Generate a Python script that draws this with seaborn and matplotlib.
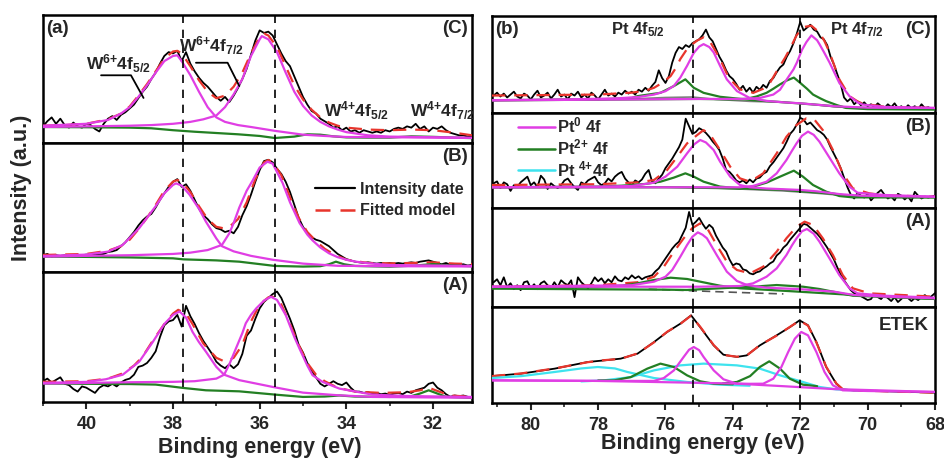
import numpy as np
import matplotlib
matplotlib.use("Agg")
import matplotlib.pyplot as plt
import seaborn as sns
from matplotlib.lines import Line2D
from matplotlib.ticker import MultipleLocator

# ---------------- data (intensity in panel units 0-100) ----------------
# energy grids of the measured spectra (0.1 eV steps)
e_w = np.round(np.arange(41.0, 31.05, -0.1), 1)     # W 4f, 100 points
e_pt = np.round(np.arange(81.1, 67.95, -0.1), 1)    # Pt 4f, 132 points

# ---- (a) W 4f ----
wC_data = [13, 17, 20, 15, 19, 14, 12, 16, 13, 12,
           15, 14, 11, 9, 15, 19, 21, 18, 22, 24,
           27, 30, 35, 40, 44, 50, 55, 62, 68, 71,
           70, 72, 64, 71, 62, 56, 51, 47, 44, 40,
           36, 33, 36, 32, 37, 43, 50, 58, 69, 80,
           88, 86, 87, 84, 77, 70, 64, 60, 52, 44,
           36, 30, 25, 23, 19, 17, 15, 12, 13, 10,
           12, 9, 10, 8, 10, 9, 8, 9, 8, 10,
           9, 11, 12, 11, 13, 12, 15, 11, 13, 9,
           12, 11, 13, 10, 8, 7, 6, 6, 5, 5]
wC_fit_x = [41, 40.5, 40, 39.5, 39.2, 39.0, 38.8, 38.6, 38.4, 38.2, 38.0, 37.9, 37.8, 37.6,
            37.4, 37.2, 37.0, 36.8, 36.6, 36.4, 36.2, 36.0, 35.9, 35.8, 35.6, 35.4, 35.2,
            35.0, 34.8, 34.6, 34.4, 34.2, 34.0, 33.5, 33.0, 32.5, 32.0, 31.5, 31.1]
wC_fit = [13.5, 14, 15, 18.5, 23, 28.5, 37, 46, 56, 66, 71.5, 72, 70, 60,
          49, 40, 35, 37, 44, 55, 70, 83, 85.5, 84, 75, 60, 45,
          34, 26, 20, 16, 13.5, 12, 10.5, 10, 10.5, 10, 8, 6]
wC_p1_x = [41, 40, 39.5, 39.2, 39.0, 38.8, 38.6, 38.4, 38.2, 38.0, 37.9, 37.8, 37.6, 37.4,
           37.2, 37.0, 36.8, 36.5, 36.2, 35.65, 35.0, 34.5, 34.0, 33.0, 32.0, 31.1]
wC_p1 = [13.5, 15, 18, 23, 28, 36, 45, 55, 64, 68, 68.5, 64, 53, 40,
         28, 20, 16.5, 14, 12.5, 9.5, 6.5, 5.5, 4.7, 4.5, 4.2, 4]
wC_p2_x = [41, 40, 39, 38.5, 38, 37.6, 37.3, 37.0, 36.8, 36.6, 36.4, 36.2, 36.0, 35.95,
           35.8, 35.6, 35.4, 35.2, 35.0, 34.8, 34.6, 34.4, 34.2, 34.0, 33.5, 33.0, 32.0, 31.1]
wC_p2 = [12.5, 13, 13.5, 14, 15, 16.5, 18.5, 21.5, 28, 38, 50, 68, 81, 83.5,
         81, 71, 55, 40, 29, 21.5, 16.5, 13, 10.5, 8.5, 6, 5, 4.5, 4]
wC_bg_x = [41, 40, 39, 38.5, 38, 37.5, 37, 36.5, 36, 35.65, 35.2, 34.9, 34.6, 34.3,
           34.0, 33.5, 33.0, 32.5, 32.0, 31.5, 31.1]
wC_bg = [12.5, 12.3, 12, 11.5, 10, 8.8, 7.8, 6.8, 5.5, 3.9, 5.0, 6.8, 6.5, 5.2,
         4.4, 4.2, 4.2, 5.2, 4.8, 4.2, 3.8]

wB_data = [13, 14, 12, 13, 12.5, 13, 12, 13, 12.5, 13,
           13.5, 13, 14, 13.5, 14, 15.5, 16, 17, 20, 23,
           27, 31, 36, 40, 43, 45, 50, 56, 61, 66,
           70, 72, 66, 68, 63, 56, 49, 44, 41, 37,
           34, 33, 31, 32, 30, 35, 44, 51, 60, 70,
           79, 86, 87, 85, 80, 76, 70, 62, 52, 42,
           35, 30, 27, 25, 24, 22, 20, 17, 14, 12,
           10, 9, 8, 7.5, 7, 7.5, 7, 6.5, 7, 6.5,
           7, 6.5, 7, 6.5, 7, 7.5, 7, 8, 8.5, 9,
           8, 7, 6, 7, 5.5, 6, 5.5, 6, 5, 5.5]
wB_fit_x = [41, 40, 39.5, 39.2, 39.0, 38.8, 38.6, 38.4, 38.2, 38.0, 37.9, 37.8, 37.6, 37.4,
            37.2, 37.0, 36.85, 36.7, 36.5, 36.3, 36.1, 35.9, 35.8, 35.7, 35.5, 35.3, 35.1,
            34.9, 34.7, 34.5, 34.3, 34.0, 33.5, 33.0, 32.5, 32.0, 31.5, 31.1]
wB_fit = [13.2, 14, 16.5, 20, 25, 33, 42, 52, 63, 70, 71.3, 70, 62, 51,
          41, 35, 34, 35, 41, 54, 72, 85, 86.8, 85, 75, 58, 42,
          31, 24, 18, 14, 9.5, 7, 6.7, 7, 7.5, 6.5, 6.2]
wB_p1_x = [41, 40, 39.5, 39.16, 38.78, 38.6, 38.4, 38.2, 38.0, 37.93, 37.8, 37.62, 37.4,
           37.24, 37.0, 36.87, 36.6, 36.2, 35.7, 35.0, 34.2, 33, 31.1]
wB_p1 = [12.4, 13.5, 15.8, 21, 34, 42, 51, 61, 67.5, 68.7, 67, 60, 49,
         39, 26, 20, 16, 12.5, 9.5, 6.5, 4.8, 4.5, 4.3]
wB_p2_x = [41, 40, 39, 38.5, 38, 37.6, 37.2, 36.87, 36.7, 36.6, 36.47, 36.3, 36.16, 36.0,
           35.82, 35.7, 35.47, 35.3, 35.08, 34.9, 34.78, 34.6, 34.4, 34.2, 34.0, 33.78,
           33.5, 33.0, 32.0, 31.1]
wB_p2 = [11.9, 12.5, 13, 13.5, 14, 15, 17, 21, 30, 38, 50, 63, 71, 81,
         85.5, 84, 69, 54, 38, 29, 24.5, 19, 14.5, 11.5, 9.5, 8,
         6.8, 5.4, 5, 4.7]
wB_bg_x = [41, 40, 39, 38, 37.76, 37.0, 36.47, 35.65, 35.0, 34.6, 34.4, 34.24, 34.05,
           33.8, 33.0, 32.4, 32.0, 31.6, 31.1]
wB_bg = [11.9, 11.7, 11.3, 10.6, 9.8, 9, 8, 4.7, 4.2, 4.5, 6, 8, 6,
         4.7, 4.1, 5, 6.2, 5, 4.5]

wA_data = [16, 18, 15, 17, 19, 14, 13, 10, 8, 12,
           11, 9, 7, 11, 13, 12, 14, 12, 15, 17,
           18, 21, 27, 28, 30, 34, 39, 50, 59, 62,
           63, 67, 58, 74, 66, 60, 53, 47, 42, 37,
           31, 28, 26, 29, 26, 29, 37, 51, 55, 64,
           72, 77, 80, 83, 85, 80, 72, 64, 55, 44,
           38, 30, 24, 19, 14, 12, 14, 16, 14, 13,
           15, 11, 8, 8, 7, 7.5, 6.5, 7, 6, 6.5,
           5.5, 6.5, 7, 6, 8, 7, 9, 10, 11, 14,
           15, 11, 9, 6, 4, 5, 4.5, 5, 4, 3.5]
wA_fit_x = [41, 40, 39.5, 39.16, 38.9, 38.7, 38.47, 38.2, 38.0, 37.88, 37.7, 37.55, 37.3,
            37.0, 36.8, 36.6, 36.4, 36.2, 36.0, 35.8, 35.7, 35.5, 35.3, 35.1, 34.9, 34.7,
            34.5, 34.2, 33.8, 33.2, 32.6, 32.3, 32.1, 31.9, 31.6, 31.1]
wA_fit = [15.5, 16, 18, 22, 28, 35, 47, 60, 68, 70.9, 68, 60, 45,
          34, 31, 34, 44, 62, 75, 80.5, 81, 75, 60, 44, 30, 21,
          16, 11, 8, 7, 7.5, 9, 11, 8.5, 5, 4]
wA_p1_x = [41, 40, 39.55, 39.16, 38.78, 38.47, 38.2, 38.0, 37.85, 37.7, 37.55, 37.4, 37.24,
           37.0, 36.82, 36.47, 35.7, 35.0, 34.2, 33.4, 32, 31.1]
wA_p1 = [14.7, 15.5, 17.5, 21, 31, 46, 60, 67, 69.6, 65, 54, 46, 38.7,
         27, 21, 16.8, 11.6, 7.2, 5.2, 3.9, 3.5, 3.3]
wA_p2_x = [41, 40, 39, 38, 37.5, 37.0, 36.82, 36.7, 36.55, 36.4, 36.32, 36.2, 36.08, 35.9,
           35.74, 35.6, 35.4, 35.2, 35.08, 34.9, 34.78, 34.55, 34.16, 33.4, 32.6, 31.1]
wA_p2 = [14.2, 14.7, 15.2, 15.5, 16, 18, 21, 29, 41, 53, 60.6, 67, 72, 78,
         81, 78.5, 67, 50, 41, 28, 20.6, 15.5, 10.3, 5.7, 4.6, 3.9]
wA_bg_x = [41, 40, 39, 38.4, 37.76, 37.24, 36.47, 35.65, 35.0, 34.5, 34.16, 33.8, 33.0,
           32.5, 32.3, 32.1, 31.9, 31.7, 31.1]
wA_bg = [14.2, 14, 13.8, 13.4, 10.8, 9, 8.2, 5.7, 3.9, 4.2, 5.0, 4.2, 3.9,
         4.5, 6.5, 9, 6.5, 4, 3.1]

# ---- (b) Pt 4f ----
pC_data = [18, 21, 17, 20, 16, 19, 22, 17, 15, 20,
           18, 14, 19, 23, 16, 18, 21, 15, 19, 24,
           17, 19, 14, 20, 18, 22, 16, 19, 15, 21,
           18, 14, 19, 24, 18, 20, 17, 21, 19, 23,
           20, 22, 19, 24, 22, 26, 23, 28, 32, 44,
           36, 31, 38, 52, 62, 68, 66, 70, 68, 72,
           74, 76, 80, 86, 78, 74, 66, 58, 52, 44,
           38, 35, 30, 24, 28, 22, 26, 21, 27, 24,
           29, 26, 33, 36, 42, 47, 50, 58, 64, 72,
           82, 94, 85, 88, 91, 86, 84, 78, 76, 70,
           58, 50, 40, 30, 16, 12, 15, 9, 12, 8,
           11, 7, 9, 6, 10, 7, 5, 9, 6, 10,
           5, 7, 4, 8, 5, 7, 4, 9, 5, 6,
           4, 5]
pC_fit_x = [81.15, 78, 77, 76.6, 76.34, 76.1, 75.85, 75.7, 75.56, 75.36, 75.2, 75.06, 74.87,
            74.67, 74.5, 74.38, 74.2, 74.08, 73.79, 73.39, 73.1, 72.9, 72.75, 72.6, 72.45,
            72.31, 72.11, 71.92, 71.67, 71.43, 71.28, 71.13, 71.0, 70.84, 70.54, 70.3,
            70.15, 69.46, 68]
pC_fit = [18, 19, 21, 23, 26, 31, 38, 46, 55.6, 66, 71, 74.7, 78,
          73, 63, 55.6, 42, 34.7, 24.3, 20.8, 25, 31, 40, 48.6, 57,
          66, 80, 88.5, 90, 83, 74, 62.5, 50, 34.7, 17.4, 12,
          9.7, 6.3, 5.2]
pC_m1_x = [81.15, 79, 77.5, 76.8, 76.34, 76.0, 75.75, 75.56, 75.36, 75.16, 75.0, 74.87, 74.7,
           74.57, 74.38, 74.18, 73.88, 73.5, 73.0, 72.5, 72.0, 71.5, 71.0, 70, 68]
pC_m1 = [13.2, 14, 15, 16.5, 19, 22.5, 28, 36.5, 48.6, 62, 68.5, 71, 68,
         62.5, 48.6, 34.7, 22.6, 15.5, 12.5, 11, 10, 8.5, 7, 5.5, 5.2]
pC_m2_x = [81.15, 77, 75, 74, 73.5, 73.2, 72.8, 72.6, 72.4, 72.2, 72.1, 71.95, 71.82, 71.67,
           71.5, 71.43, 71.3, 71.13, 70.84, 70.54, 70.3, 70.15, 69.5, 68]
pC_m2 = [13, 14, 14.5, 14.5, 14.6, 15.5, 19, 24, 34.7, 45, 52, 65, 73, 80,
         75, 71, 63, 52, 31, 17.4, 11, 8.7, 6.3, 5.2]
pC_g1_x = [81.15, 78, 77, 76.83, 76.15, 75.75, 75.41, 75.16, 74.87, 74.38, 73.4, 72.5, 71.5,
           70.5, 68]
pC_g1 = [13.2, 14, 15.5, 17.4, 20.8, 27.8, 34.7, 26, 20.8, 16.7, 13.2, 11.1, 8.5,
         5.5, 4.5]
pC_g2_x = [81.15, 77, 75, 74.0, 73.6, 73.3, 73.0, 72.8, 72.6, 72.4, 72.19, 72.0, 71.8, 71.62,
           71.4, 71.23, 70.9, 70.64, 70, 68]
pC_g2 = [13, 14, 14.5, 14, 14.6, 17, 20.8, 25, 29.5, 33.5, 36.5, 31, 25, 19,
         15, 12.2, 8, 5.2, 4, 3.5]
pC_bg_x = [81.15, 77, 76, 75.2, 74.5, 73.5, 72.5, 71.8, 71, 70, 68]
pC_bg = [13.2, 14.5, 16, 16.5, 14, 12, 11, 9.5, 6.5, 5, 4.5]

pB_data = [26, 28, 21, 27, 25, 18, 24, 22, 27, 30,
           33, 24, 27, 22, 34, 30, 20, 26, 23, 21,
           24, 29, 31, 26, 22, 19, 27, 25, 29, 31,
           33, 27, 24, 26, 31, 28, 33, 36, 38, 31,
           27, 24, 29, 27, 30, 36, 40, 28, 26, 31,
           35, 42, 47, 52, 58, 64, 72, 94, 86, 78,
           80, 84, 82, 79, 75, 70, 66, 61, 52, 40,
           38, 34, 29, 27, 29, 26, 30, 27, 31, 32,
           36, 38, 44, 48, 53, 58, 63, 70, 78, 82,
           88, 95, 93, 88, 90, 86, 82, 80, 77, 72,
           64, 57, 50, 42, 32, 22, 14, 10, 16, 13,
           11, 15, 8, 12, 16, 19, 14, 10, 12, 8,
           15, 13, 9, 12, 7, 17, 13, 10, 12, 11,
           12, 13]
pB_fit_x = [81.15, 78, 76.8, 76.34, 75.95, 75.65, 75.36, 75.06, 74.87, 74.67, 74.38, 74.08,
            73.79, 73.49, 73.1, 72.7, 72.41, 72.11, 71.82, 71.57, 71.33, 71.03, 70.74,
            70.44, 69.95, 69.46, 68]
pB_fit = [24.2, 25, 27, 29.5, 40, 54, 68, 76.8, 82, 77, 61, 43.5,
          31.2, 27.7, 36.5, 57.5, 75, 87.4, 94.4, 92.6, 82, 61, 36.5,
          20.7, 15.4, 13.3, 11.9]
pB_m1_x = [81.15, 78, 77, 76.34, 76.0, 75.65, 75.36, 75.15, 74.97, 74.8, 74.57, 74.38, 74.08,
           73.79, 73.5, 73.0, 72.0, 71.5, 70.8, 70.2, 69.5, 68]
pB_m1 = [21.8, 22.5, 23.2, 26.7, 33, 43.5, 57.5, 67, 71.6, 69, 61, 48.8, 33,
         24.2, 21.8, 20.5, 19, 17.5, 14.5, 13, 12.5, 11.9]
pB_m2_x = [81.15, 76, 74.5, 73.8, 73.4, 73.0, 72.7, 72.41, 72.25, 72.11, 71.95, 71.77, 71.6,
           71.43, 71.15, 70.84, 70.54, 70.3, 69.5, 68]
pB_m2 = [21.8, 21.8, 21.8, 21.8, 23.2, 27.7, 36.5, 50.5, 60, 68, 76, 80.4, 77,
         69.8, 54, 36.5, 22.5, 16.1, 13.7, 11.9]
pB_g1_x = [81.15, 78, 77.3, 76.6, 76.15, 75.75, 75.41, 75.16, 74.87, 74.38, 73.79, 72.5,
           71.0, 70.4, 68]
pB_g1 = [21.8, 22.5, 23.5, 25.3, 27.7, 32, 36.5, 33, 27.7, 22.5, 20.7, 19,
         15, 11.9, 11.5]
pB_g2_x = [81.15, 76, 74.5, 73.79, 73.4, 73.0, 72.6, 72.19, 71.92, 71.62, 71.23, 70.84,
           70.44, 68]
pB_g2 = [21.8, 21.8, 21, 20.4, 22.5, 26.7, 33, 39.3, 33, 24.2, 17.2, 12.6,
         11.2, 11]
pB_bg_x = [81.15, 77, 75.5, 74.5, 73.5, 72.5, 71.5, 70.5, 68]
pB_bg = [21.8, 22, 22, 21, 19.5, 18, 15.5, 12.5, 11.5]

pA_data = [25, 28, 22, 30, 20, 24, 18, 22, 17, 25,
           26, 19, 23, 18, 24, 26, 22, 19, 25, 20,
           27, 24, 22, 27, 10, 30, 25, 22, 19, 24,
           30, 26, 29, 24, 28, 25, 31, 27, 26, 30,
           28, 32, 29, 31, 28, 30, 31, 32, 36, 39,
           44, 49, 54, 59, 63, 66, 73, 80, 96, 83,
           86, 90, 84, 79, 83, 80, 72, 66, 60, 56,
           48, 42, 44, 43, 38, 37, 34, 33, 35, 36,
           39, 41, 44, 46, 52, 55, 60, 63, 68, 72,
           76, 80, 84, 83, 80, 77, 74, 70, 65, 60,
           54, 48, 40, 33, 27, 22, 17, 14, 12, 11,
           9, 7, 8, 13, 10, 8, 12, 9, 6, 10,
           5, 8, 12, 9, 6, 9, 7, 10, 12, 9,
           11, 14]
pA_fit_x = [81.15, 78, 76.83, 76.34, 76.05, 75.75, 75.46, 75.21, 74.97, 74.77, 74.48, 74.18,
            73.88, 73.49, 73.1, 72.7, 72.41, 72.11, 71.87, 71.62, 71.33, 71.03, 70.74,
            70.44, 69.95, 68.97, 68]
pA_fit = [20.5, 22, 25, 30.6, 40.7, 55.9, 69.4, 79.5, 84.5, 80, 62.6, 45.8,
          37.4, 34, 40.7, 55.9, 69.4, 81, 86.2, 82.8, 69.4, 52.5, 32.3,
          18.9, 13.8, 12.1, 10.4]
pA_m1_x = [81.15, 77, 76.34, 76.0, 75.8, 75.56, 75.36, 75.2, 75.04, 74.9, 74.77, 74.48,
           74.18, 73.88, 73.58, 73.0, 72.0, 71.0, 70.4, 69.5, 68]
pA_m1 = [20.5, 22, 25.6, 30.6, 37.4, 50.8, 62.6, 71, 75.4, 73, 69.4, 52.5,
         35.7, 26.3, 22.2, 19.5, 18, 15.5, 12.1, 10.5, 8.8]
pA_m2_x = [81.15, 75, 73.8, 73.4, 73.0, 72.7, 72.41, 72.25, 72.11, 71.95, 71.8, 71.6, 71.43,
           71.13, 70.84, 70.54, 70.3, 69.5, 68]
pA_m2 = [20.5, 20.5, 21.2, 23.9, 30.6, 39, 52.5, 62, 69.4, 76.5, 78.8, 74, 66,
         49, 32.3, 18.9, 13.8, 11.4, 9.4]
pA_g1_x = [81.15, 78, 77.3, 76.83, 76.34, 75.85, 75.36, 74.87, 74.38, 73.79, 72.4, 70.4, 68]
pA_g1 = [19.5, 20.5, 21.5, 23.9, 27.3, 29.6, 28.3, 24.9, 21.5, 18.9, 16.2, 12.1, 8.1]
pA_g2_x = [81.15, 76, 75.36, 74.38, 73.4, 72.7, 71.92, 71.43, 70.93, 70.44, 68]
pA_g2 = [18.5, 17.5, 17.2, 18.9, 20.5, 22.2, 20.5, 18.2, 14.8, 11.4, 8.1]
pA_bg_x = [76.5, 75.5, 74.5, 73.5, 72.5]
pA_bg = [18, 16.8, 15.5, 14.3, 13.2]

pE_x = [81.15, 80.28, 79.29, 78.31, 77.82, 77.33, 76.83, 76.34, 75.95, 75.56, 75.24, 74.97,
        74.57, 74.28, 73.88, 73.59, 73.2, 72.7, 72.31, 72.02, 71.77, 71.52, 71.23, 70.93,
        70.74, 70.44, 69.46, 68.0]
pE_data = [28, 30.6, 35.8, 42.7, 44.4, 46.2, 51.4, 63.5, 74, 82.6, 91.3, 79,
           60, 50.3, 48, 49.6, 60, 70.5, 79, 86.1, 81, 63.5, 37.5, 20.1,
           14.2, 13.2, 12.2, 10.8]
pE_fit = [28, 30.8, 36, 42.5, 44.6, 46, 51.6, 63.2, 74.2, 82.4, 91, 79.4,
          60.4, 50, 48.2, 49.4, 60.2, 70.2, 79.2, 85.8, 80.6, 63, 37.8, 20.4,
          14.4, 13.2, 12.2, 10.8]
pE_m1_x = [81.15, 78, 76.34, 76.05, 75.75, 75.46, 75.3, 75.16, 75.0, 74.87, 74.57, 74.28,
           73.88, 72.5, 71.0, 68]
pE_m1 = [23.6, 23, 23, 26, 34, 48, 55.5, 58.3, 55, 48, 34, 24.7,
         20.1, 17.5, 14.5, 11.5]
pE_m2_x = [81.15, 78, 75, 73.5, 73.1, 72.8, 72.56, 72.36, 72.16, 71.97, 71.77, 71.52, 71.28,
           71.03, 70.74, 70, 68]
pE_m2 = [23.6, 23, 21, 20, 20.1, 25.3, 37.5, 53, 67, 74, 70.5, 53, 32.3,
         18.4, 13.2, 12.5, 11.5]
pE_g1_x = [78.0, 77.52, 77.03, 76.54, 76.15, 75.75, 75.36, 74.97, 74.57, 74.0]
pE_g1 = [23.5, 23.6, 27, 35.8, 41, 37.5, 28.8, 22.6, 20.1, 19.5]
pE_g2_x = [74.3, 73.88, 73.49, 73.2, 72.92, 72.6, 72.31, 71.92, 71.5]
pE_g2 = [20.5, 21.9, 28, 37.5, 43.4, 35.8, 25.3, 19.1, 17.5]
pE_c1_x = [81.15, 80.28, 79.29, 78.5, 78.01, 77.5, 77.13, 76.34, 75.36, 74.38, 73.5]
pE_c1 = [26, 28, 32.3, 36, 37.5, 36, 32.3, 26, 21.9, 19.1, 18]
pE_c2_x = [78.5, 77.82, 77.03, 76.34, 75.56, 74.87, 73.88, 73.2, 72.6, 71.92, 71.43, 70.93,
           70.3]
pE_c2 = [22.5, 23.6, 27, 34, 39.2, 41, 39.2, 35.8, 28.8, 21.9, 16.7, 14.2, 13]

# peak reference lines and pointer lines of the labels
w_ref = [37.76, 35.65]
pt_ref = [75.18, 72.0]
ptr_w52_x, ptr_w52_y = [39.66, 38.97, 38.68], [52.9, 52.9, 35.2]
ptr_w72_x, ptr_w72_y = [37.47, 36.74, 36.47], [62.7, 62.7, 44.5]

# ---------------- style ----------------
sns.set_style("white")
plt.rcParams["font.family"] = ["Liberation Sans", "DejaVu Sans"]
plt.rcParams["font.weight"] = "bold"
plt.rcParams["mathtext.fontset"] = "custom"
plt.rcParams["mathtext.rm"] = "Liberation Sans:bold"
plt.rcParams["mathtext.bf"] = "Liberation Sans:bold"
plt.rcParams["mathtext.it"] = "Liberation Sans:bold"
plt.rcParams["mathtext.default"] = "bf"

BLACK = "black"
RED = "#e8352c"
MAG = "#e03ee4"
GRN = "#237f23"
CYAN = "#3ee3ee"
GRAY = "#808080"


def line(ax, x, y, color, lw=1.4, z=2, dashes=None):
    sns.lineplot(x=np.asarray(x, float), y=np.asarray(y, float), ax=ax, color=color,
                 linewidth=lw, sort=False, estimator=None, zorder=z)
    if dashes is not None:
        ax.lines[-1].set_dashes(dashes)


def frame(ax, xlim, bottom):
    ax.set_xlim(*xlim)
    ax.set_ylim(0, 100)
    ax.set_yticks([])
    ax.set_ylabel("")
    ax.set_xlabel("")
    for s in ax.spines.values():
        s.set_linewidth(1.8)
        s.set_color("black")
    if bottom:
        ax.xaxis.set_major_locator(MultipleLocator(2))
        ax.xaxis.set_minor_locator(MultipleLocator(1))
        ax.tick_params(axis="x", which="major", direction="out", length=5, width=1.5,
                       labelsize=13, pad=5, bottom=True)
        ax.tick_params(axis="x", which="minor", direction="out", length=3, width=1.2,
                       bottom=True)
        for t in ax.get_xticklabels():
            t.set_fontweight("bold")
    else:
        ax.set_xticks([])


def spectrum(ax, ex, data, fit_x, fit, comps, bg=None, bg_dash=None):
    line(ax, ex, data, BLACK, lw=1.3, z=2)
    line(ax, fit_x, fit, RED, lw=1.6, z=3, dashes=(6, 4))
    if bg is not None:
        line(ax, bg[0], bg[1], "#555555" if bg_dash else GRAY, lw=1.2, z=3, dashes=bg_dash)
    for cx, cy, col in comps:
        line(ax, cx, cy, col, lw=1.6, z=4)


fig = plt.figure(figsize=(9.45, 4.59), dpi=100)

# left group (W 4f)
lx, lw_ = 43 / 945, 429 / 945
axWC = fig.add_axes([lx, 1 - 143 / 459, lw_, 128 / 459])
axWB = fig.add_axes([lx, 1 - 272 / 459, lw_, 129 / 459])
axWA = fig.add_axes([lx, 1 - 402 / 459, lw_, 130 / 459])
# right group (Pt 4f)
rx, rw = 492 / 945, 443 / 945
axPC = fig.add_axes([rx, 1 - 113 / 459, rw, 97 / 459])
axPB = fig.add_axes([rx, 1 - 208 / 459, rw, 95 / 459])
axPA = fig.add_axes([rx, 1 - 307 / 459, rw, 99 / 459])
axPE = fig.add_axes([rx, 1 - 403 / 459, rw, 96 / 459])

spectrum(axWC, e_w, wC_data, wC_fit_x, wC_fit,
         [(wC_bg_x, wC_bg, GRN), (wC_p1_x, wC_p1, MAG), (wC_p2_x, wC_p2, MAG)])
spectrum(axWB, e_w, wB_data, wB_fit_x, wB_fit,
         [(wB_bg_x, wB_bg, GRN), (wB_p1_x, wB_p1, MAG), (wB_p2_x, wB_p2, MAG)])
spectrum(axWA, e_w, wA_data, wA_fit_x, wA_fit,
         [(wA_bg_x, wA_bg, GRN), (wA_p1_x, wA_p1, MAG), (wA_p2_x, wA_p2, MAG)])

spectrum(axPC, e_pt, pC_data, pC_fit_x, pC_fit,
         [(pC_g1_x, pC_g1, GRN), (pC_g2_x, pC_g2, GRN), (pC_m1_x, pC_m1, MAG), (pC_m2_x, pC_m2, MAG)],
         bg=(pC_bg_x, pC_bg))
spectrum(axPB, e_pt, pB_data, pB_fit_x, pB_fit,
         [(pB_g1_x, pB_g1, GRN), (pB_g2_x, pB_g2, GRN), (pB_m1_x, pB_m1, MAG), (pB_m2_x, pB_m2, MAG)],
         bg=(pB_bg_x, pB_bg))
spectrum(axPA, e_pt, pA_data, pA_fit_x, pA_fit,
         [(pA_g1_x, pA_g1, GRN), (pA_g2_x, pA_g2, GRN), (pA_m1_x, pA_m1, MAG), (pA_m2_x, pA_m2, MAG)],
         bg=(pA_bg_x, pA_bg), bg_dash=(5, 3))
spectrum(axPE, pE_x, pE_data, pE_x, pE_fit,
         [(pE_c1_x, pE_c1, CYAN), (pE_c2_x, pE_c2, CYAN), (pE_g1_x, pE_g1, GRN),
          (pE_g2_x, pE_g2, GRN), (pE_m1_x, pE_m1, MAG), (pE_m2_x, pE_m2, MAG)])

for ax in (axWC, axWB, axWA):
    for e in w_ref:
        ax.axvline(e, color="black", lw=1.2, dashes=(5, 4), zorder=5)
for ax in (axPC, axPB, axPA, axPE):
    for e in pt_ref:
        ax.axvline(e, color="black", lw=1.2, dashes=(5, 4), zorder=5)

frame(axWC, (41.0, 31.1), False)
frame(axWB, (41.0, 31.1), False)
frame(axWA, (41.0, 31.1), True)
frame(axPC, (81.15, 68.0), False)
frame(axPB, (81.15, 68.0), False)
frame(axPA, (81.15, 68.0), False)
frame(axPE, (81.15, 68.0), True)

# panel tags
def tag(ax, s, x, y, ha, size=13.5):
    ax.text(x, y, s, transform=ax.transAxes, ha=ha, va="top", fontsize=size,
            fontweight="bold", zorder=6)

tag(axWC, "(a)", 0.008, 0.96, "left")
tag(axWC, "(C)", 0.99, 0.96, "right")
tag(axWB, "(B)", 0.99, 0.96, "right")
tag(axWA, "(A)", 0.99, 0.96, "right")
tag(axPC, "(b)", 0.008, 0.95, "left")
tag(axPC, "(C)", 0.99, 0.95, "right")
tag(axPB, "(B)", 0.99, 0.95, "right")
tag(axPA, "(A)", 0.99, 0.95, "right")
tag(axPE, "ETEK", 0.985, 0.9, "right")

# W 4f labels with pointers
lab = dict(ha="center", va="center", fontsize=12.5, fontweight="bold", zorder=6)
axWC.text(39.26, 62, r"W$^{6{+}}$4f$_{5/2}$", **lab)
axWC.text(37.12, 76, r"W$^{6{+}}$4f$_{7/2}$", **lab)
axWC.text(33.76, 25, r"W$^{4{+}}$4f$_{5/2}$", **lab)
axWC.text(31.78, 25, r"W$^{4{+}}$4f$_{7/2}$", **lab)
axWC.plot(ptr_w52_x, ptr_w52_y, color="black", lw=1.3, zorder=6)
axWC.plot(ptr_w72_x, ptr_w72_y, color="black", lw=1.3, zorder=6)

axPC.text(76.81, 86, r"Pt 4f$_{5/2}$", ha="center", va="center", fontsize=12, fontweight="bold")
axPC.text(70.32, 86, r"Pt 4f$_{7/2}$", ha="center", va="center", fontsize=12, fontweight="bold")

# legends
h1 = [Line2D([], [], color=BLACK, lw=1.6),
      Line2D([], [], color=RED, lw=1.8, dashes=(6, 4))]
axWB.legend(h1, ["Intensity date", "Fitted model"], loc="upper left",
            bbox_to_anchor=(0.615, 0.76), frameon=False, handlelength=2.5,
            handletextpad=0.3, labelspacing=0.4, borderpad=0,
            prop=dict(weight="bold", size=11.5))
h2 = [Line2D([], [], color=MAG, lw=1.8), Line2D([], [], color=GRN, lw=1.8),
      Line2D([], [], color=CYAN, lw=1.8)]
leg = axPB.legend(h2, [r"Pt$^{0}$ 4f", r"Pt$^{2{+}}$ 4f", r"Pt $^{4{+}}$4f"], loc="upper left",
                  bbox_to_anchor=(0.04, 1.06), frameon=False, handlelength=2.2,
                  handletextpad=0.15, labelspacing=0.12, borderpad=0,
                  prop=dict(weight="bold", size=12))
leg.set_zorder(10)

fig.text(0.023, 0.59, "Intensity (a.u.)", rotation=90, ha="center", va="center",
         fontsize=15.5, fontweight="bold")
fig.text(260 / 945, 1 - 447 / 459, "Binding energy (eV)", ha="center", va="center",
         fontsize=15.5, fontweight="bold")
fig.text(703 / 945, 1 - 443 / 459, "Binding energy (eV)", ha="center", va="center",
         fontsize=15.5, fontweight="bold")

fig.savefig("out.png", dpi=100)
